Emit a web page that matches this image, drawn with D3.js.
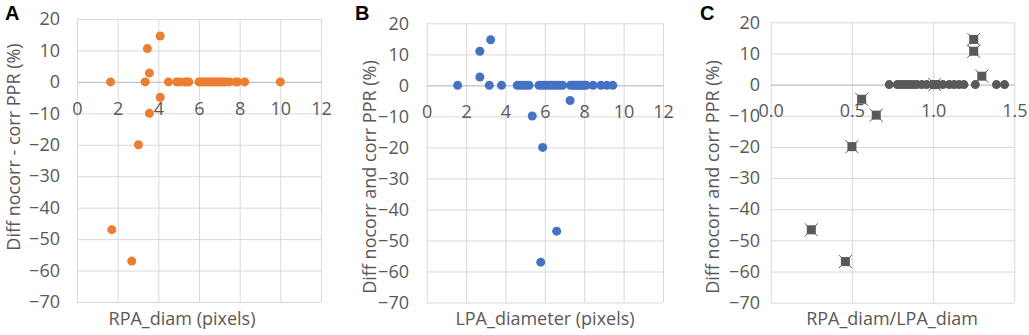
<!DOCTYPE html>
<html><head><meta charset="utf-8">
<script src="https://cdn.jsdelivr.net/npm/d3@7"></script>
<style>
body{margin:0;background:#fff;}
svg{display:block;}
</style></head>
<body><svg id="c" width="1029" height="335"></svg>
<script>
// ---- Data ----
const yTicks = [20, 10, 0, -10, -20, -30, -40, -50, -60, -70];
const xTicksAB = [0, 2, 4, 6, 8, 10, 12];
const xTicksC = [0, 0.5, 1.0, 1.5];

// Panel A: RPA_diam (pixels) vs Diff
const rpaX = [1.65, 3.35, 4.5, 4.9, 5.05, 5.3, 5.4, 5.5, 6.0, 6.1, 6.2, 6.3, 6.4, 6.5, 6.6, 6.7, 6.8, 6.9, 7.0, 7.1, 7.2, 7.3, 7.5, 7.8, 7.9, 8.25, 10.0,
              3.46, 3.56, 4.09, 4.09, 3.56, 3.02, 1.71, 2.69];
const rpaY = [0, 0, 0, 0, 0, 0, 0, 0, 0, 0, 0, 0, 0, 0, 0, 0, 0, 0, 0, 0, 0, 0, 0, 0, 0, 0, 0,
              10.6, 2.8, 14.6, -4.9, -10, -20, -47, -57];

// Panel B: LPA_diameter (pixels) vs Diff
const lpaX = [1.57, 3.18, 3.8, 4.6, 4.75, 4.9, 5.05, 5.2, 5.7, 5.85, 6.0, 6.15, 6.3, 6.45, 6.6, 6.75, 6.9, 7.3, 7.4, 7.5, 7.6, 7.7, 7.8, 7.9, 8.0, 8.1, 8.45, 8.85, 9.15, 9.45,
              2.7, 2.7, 3.25, 7.28, 5.36, 5.89, 6.6, 5.79];
const lpaY = [0, 0, 0, 0, 0, 0, 0, 0, 0, 0, 0, 0, 0, 0, 0, 0, 0, 0, 0, 0, 0, 0, 0, 0, 0, 0, 0, 0, 0, 0,
              2.7, 11, 14.7, -4.9, -9.9, -20, -47, -57];

// Panel C: ratio vs Diff (zero points as circles, others as square/x markers)
const ratioZeroX = [0.73, 0.78, 0.80, 0.82, 0.84, 0.86, 0.88, 0.90, 0.93, 0.96, 1.00, 1.03, 1.06, 1.10, 1.13, 1.16, 1.19, 1.26, 1.39, 1.44];
const ratioZeroY = [0, 0, 0, 0, 0, 0, 0, 0, 0, 0, 0, 0, 0, 0, 0, 0, 0, 0, 0, 0];
const ratioMarkX = [1.25, 1.25, 1.30, 0.56, 0.65, 0.50, 0.25, 0.46, 1.01];
const ratioMarkY = [14.5, 10.7, 2.7, -4.7, -9.8, -19.9, -46.6, -56.8, 0];

// ---- Drawing ----
const svg = d3.select("#c");
const FONT = "'Open Sans', 'DejaVu Sans', sans-serif";
const TXT = "#595959";
const GRID = "#D9D9D9";

function panel(cfg) {
  const x = d3.scaleLinear().domain(cfg.xDomain).range(cfg.xRange);
  const y = d3.scaleLinear().domain([-70, 20]).range(cfg.yRange);
  const [L, R] = cfg.xRange, [B, T] = cfg.yRange;
  const g = svg.append("g");

  // vertical grid
  g.append("g").attr("transform", `translate(0,${B})`)
    .call(d3.axisBottom(x).tickValues(cfg.xTicks).tickSize(-(B - T)).tickFormat(""))
    .call(s => s.select(".domain").remove())
    .call(s => s.selectAll("line").attr("stroke", GRID).attr("stroke-width", 1));
  // horizontal grid
  g.append("g").attr("transform", `translate(${L},0)`)
    .call(d3.axisLeft(y).tickValues(yTicks).tickSize(-(R - L)).tickFormat(""))
    .call(s => s.select(".domain").remove())
    .call(s => s.selectAll("line").attr("stroke", GRID).attr("stroke-width", 1));

  // y tick labels
  g.append("g").attr("transform", `translate(${L},0)`)
    .call(d3.axisLeft(y).tickValues(yTicks).tickSize(0).tickPadding(L - cfg.yLabelRight).tickFormat(d3.format("d")))
    .call(s => s.select(".domain").remove())
    .call(s => s.selectAll("text").attr("fill", TXT).style("font-family", FONT).style("font-size", "18px"));

  // x axis at y=0
  g.append("g").attr("transform", `translate(0,${y(0)})`)
    .call(d3.axisBottom(x).tickValues(cfg.xTicks).tickSize(0).tickSizeOuter(0).tickPadding(20).tickFormat(cfg.xFmt))
    .call(s => s.select(".domain").attr("stroke", "#BFBFBF").attr("stroke-width", 1))
    .call(s => s.selectAll("text").attr("fill", TXT).style("font-family", FONT).style("font-size", "18px"));

  // titles
  g.append("text").attr("transform", `translate(${cfg.yTitleX},${cfg.yTitleY}) rotate(-90)`)
    .attr("text-anchor", "middle").attr("dy", "0.35em")
    .attr("fill", TXT).style("font-family", FONT).style("font-size", "18px").text(cfg.yTitle);
  g.append("text").attr("x", cfg.xTitleX).attr("y", 325)
    .attr("text-anchor", "middle")
    .attr("fill", TXT).style("font-family", FONT).style("font-size", "18px").text(cfg.xTitle);
  g.append("text").attr("x", cfg.labelX).attr("y", 20)
    .attr("fill", "#000").style("font-family", "'Liberation Sans', Arial, sans-serif")
    .style("font-weight", "bold").style("font-size", "20px").text(cfg.label);

  return { g, x, y };
}

// Panel A
const pA = panel({ xDomain: [0, 12], xRange: [77, 321], yRange: [302, 19], xTicks: xTicksAB, xFmt: d3.format("d"),
  yLabelRight: 60, yTitleX: 14, yTitleY: 147, yTitle: "Diff nocorr -  corr PPR (%)",
  xTitleX: 182, xTitle: "RPA_diam (pixels)", labelX: 5, label: "A" });
pA.g.append("g").selectAll("circle").data(rpaX).join("circle")
  .attr("cx", d => pA.x(d)).attr("cy", (d, i) => pA.y(rpaY[i])).attr("r", 4.5).attr("fill", "#ED7D31");

// Panel B
const pB = panel({ xDomain: [0, 12], xRange: [426.7, 663], yRange: [302.5, 23.3], xTicks: xTicksAB, xFmt: d3.format("d"),
  yLabelRight: 409, yTitleX: 370, yTitleY: 177, yTitle: "Diff nocorr and corr PPR (%)",
  xTitleX: 545, xTitle: "LPA_diameter (pixels)", labelX: 355, label: "B" });
pB.g.append("g").selectAll("circle").data(lpaX).join("circle")
  .attr("cx", d => pB.x(d)).attr("cy", (d, i) => pB.y(lpaY[i])).attr("r", 4.5).attr("fill", "#4472C4");

// Panel C
const pC = panel({ xDomain: [0, 1.5], xRange: [770.7, 1014.3], yRange: [302.7, 22.3], xTicks: xTicksC, xFmt: d3.format(".1f"),
  yLabelRight: 760, yTitleX: 713, yTitleY: 177, yTitle: "Diff nocorr and corr PPR (%)",
  xTitleX: 892, xTitle: "RPA_diam/LPA_diam", labelX: 700, label: "C" });
pC.g.append("g").selectAll("circle").data(ratioZeroX).join("circle")
  .attr("cx", d => pC.x(d)).attr("cy", (d, i) => pC.y(ratioZeroY[i])).attr("r", 4.5).attr("fill", "#595959");
const mk = pC.g.append("g").selectAll("g").data(ratioMarkX).join("g")
  .attr("transform", (d, i) => `translate(${pC.x(d)},${pC.y(ratioMarkY[i])})`);
mk.append("rect").attr("x", -4.5).attr("y", -4.5).attr("width", 9).attr("height", 9).attr("fill", "#595959");
mk.append("path").attr("d", "M-6.5,-6.5L6.5,6.5M-6.5,6.5L6.5,-6.5").attr("stroke", "#595959").attr("stroke-width", 1);
</script></body></html>
